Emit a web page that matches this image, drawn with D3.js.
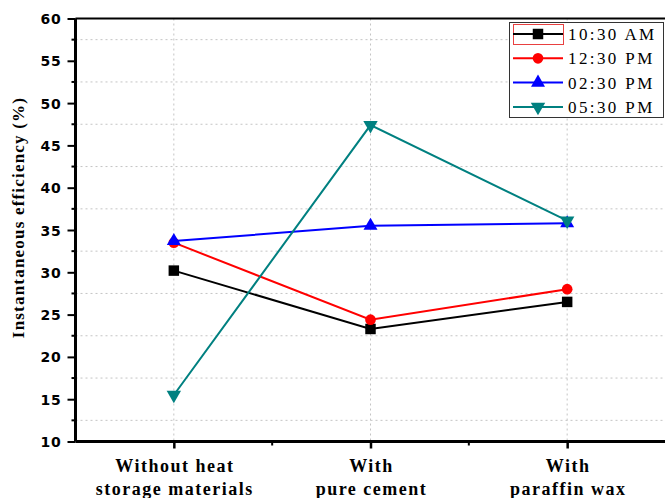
<!DOCTYPE html>
<html>
<head>
<meta charset="utf-8">
<script src="https://cdn.jsdelivr.net/npm/d3@7"></script>
<style>
  body { margin: 0; background: #fff; }
  svg { display: block; }
</style>
</head>
<body>
<svg id="chart" width="665" height="498"></svg>
<script>
// ---- data ----
const categories = [
  ["Without heat", "storage materials"],
  ["With", "pure cement"],
  ["With", "paraffin wax"]
];
const seriesNames = ["10:30 AM", "12:30 PM", "02:30 PM", "05:30 PM"];
const values1030 = [30.2, 23.3, 26.5];
const values1230 = [33.5, 24.4, 28.0];
const values0230 = [33.7, 35.5, 35.8];
const values0530 = [15.5, 47.4, 36.1];
const yTicks = [10, 15, 20, 25, 30, 35, 40, 45, 50, 55, 60];
const yTitle = "Instantaneous efficiency (%)";

(function () {
const seriesValues = [values1030, values1230, values0230, values0530];
const colors = ["#000000", "#ff0000", "#0000ff", "#008080"];
const symbols = [d3.symbolSquare, d3.symbolCircle, d3.symbolTriangle, d3.symbolTriangle];
const symSizes = [110, 90, 85, 90];
const rotations = [0, 0, 0, 180];

const svg = d3.select("#chart");
const pLeft = 75.5, pRight = 665.5, pTop = 18.5, pBottom = 441.5;

const x = d3.scaleLinear().domain([0.5, 3.5]).range([pLeft, pRight]);
const y = d3.scaleLinear().domain([10, 60]).range([pBottom, pTop]);

// grid
const gridH = d3.range(12.5, 60, 5);
svg.append("g").selectAll("line").data(gridH).join("line")
  .attr("x1", pLeft).attr("x2", pRight)
  .attr("y1", d => y(d)).attr("y2", d => y(d))
  .attr("stroke", "#c4c4c4").attr("stroke-width", 1).attr("stroke-dasharray", "2,3");
svg.append("g").selectAll("line").data([1, 2, 3]).join("line")
  .attr("y1", pTop).attr("y2", pBottom)
  .attr("x1", d => x(d)).attr("x2", d => x(d))
  .attr("stroke", "#c4c4c4").attr("stroke-width", 1).attr("stroke-dasharray", "2,3");

// y axis
const yAxis = d3.axisLeft(y).tickValues(yTicks).tickSize(8).tickPadding(5);
const gy = svg.append("g").attr("transform", `translate(${pLeft},0)`).call(yAxis);
gy.select(".domain").remove();
gy.selectAll(".tick line").attr("stroke", "#000").attr("stroke-width", 2);
gy.selectAll(".tick text")
  .attr("font-family", "DejaVu Sans").attr("font-weight", "bold")
  .attr("font-size", 14).attr("letter-spacing", 0.8).attr("fill", "#000")
  .attr("x", -14).attr("dy", "0.36em");
// y minor ticks
svg.append("g").selectAll("line").data(d3.range(12.5, 60, 5)).join("line")
  .attr("x1", pLeft - 4).attr("x2", pLeft)
  .attr("y1", d => y(d)).attr("y2", d => y(d))
  .attr("stroke", "#000").attr("stroke-width", 2);

// x axis
const xAxis = d3.axisBottom(x).tickValues([1, 2, 3]).tickSize(7).tickFormat("");
const gx = svg.append("g").attr("transform", `translate(0,${pBottom})`).call(xAxis);
gx.select(".domain").remove();
gx.selectAll(".tick line").attr("stroke", "#000").attr("stroke-width", 2.5);
svg.append("g").selectAll("line").data([1.5, 2.5]).join("line")
  .attr("x1", d => x(d)).attr("x2", d => x(d))
  .attr("y1", pBottom).attr("y2", pBottom + 4)
  .attr("stroke", "#000").attr("stroke-width", 2);

// x labels
const xl = svg.append("g").selectAll("text").data(categories).join("text")
  .attr("font-family", "Liberation Serif").attr("font-weight", "bold")
  .attr("font-size", 18).attr("letter-spacing", 1.5).attr("fill", "#000")
  .attr("text-anchor", "middle");
xl.each(function(d, i) {
  const t = d3.select(this);
  d.forEach((line, j) => {
    t.append("tspan").attr("x", x(i + 1) + 1).attr("y", 472 + j * 23).text(line);
  });
});

// frame lines
svg.append("line").attr("x1", pLeft).attr("x2", pRight).attr("y1", pBottom).attr("y2", pBottom)
  .attr("stroke", "#000").attr("stroke-width", 3);
svg.append("line").attr("x1", pLeft).attr("x2", pLeft).attr("y1", pTop).attr("y2", pBottom)
  .attr("stroke", "#000").attr("stroke-width", 3);
svg.append("line").attr("x1", pLeft).attr("x2", pRight).attr("y1", pTop).attr("y2", pTop)
  .attr("stroke", "#000").attr("stroke-width", 2);

// y title
svg.append("text")
  .attr("transform", `translate(24,${(97 + 338) / 2}) rotate(-90)`)
  .attr("text-anchor", "middle")
  .attr("font-family", "Liberation Serif").attr("font-weight", "bold")
  .attr("font-size", 17).attr("letter-spacing", 1.2).attr("fill", "#000")
  .text(yTitle);

// series
const line = d3.line().x((d, i) => x(i + 1)).y(d => y(d));
seriesValues.forEach((vals, s) => {
  svg.append("path").datum(vals).attr("d", line)
    .attr("fill", "none").attr("stroke", colors[s]).attr("stroke-width", 2);
  svg.append("g").selectAll("path").data(vals).join("path")
    .attr("d", d3.symbol().type(symbols[s]).size(symSizes[s]))
    .attr("transform", (d, i) => `translate(${x(i + 1)},${y(d)}) rotate(${rotations[s]})`)
    .attr("fill", colors[s]);
});

// legend
const lg = svg.append("g");
lg.append("rect").attr("x", 509.5).attr("y", 22.5).attr("width", 154).attr("height", 95)
  .attr("fill", "#fff").attr("stroke", "#333").attr("stroke-width", 1);
lg.append("rect").attr("x", 513.5).attr("y", 24.5).attr("width", 50).attr("height", 20)
  .attr("fill", "none").attr("stroke", "#e84040").attr("stroke-width", 1);
seriesNames.forEach((name, s) => {
  const ry = 34 + s * 24.3;
  lg.append("line").attr("x1", 513).attr("x2", 563).attr("y1", ry).attr("y2", ry)
    .attr("stroke", colors[s]).attr("stroke-width", 2);
  lg.append("path").attr("d", d3.symbol().type(symbols[s]).size(symSizes[s]))
    .attr("transform", `translate(538,${ry}) rotate(${rotations[s]})`)
    .attr("fill", colors[s]);
  lg.append("text").attr("x", 568).attr("y", ry + 6)
    .attr("font-family", "Liberation Serif").attr("font-size", 17)
    .attr("letter-spacing", 2.4).attr("fill", "#000").text(name);
});
})();
</script>
</body>
</html>
